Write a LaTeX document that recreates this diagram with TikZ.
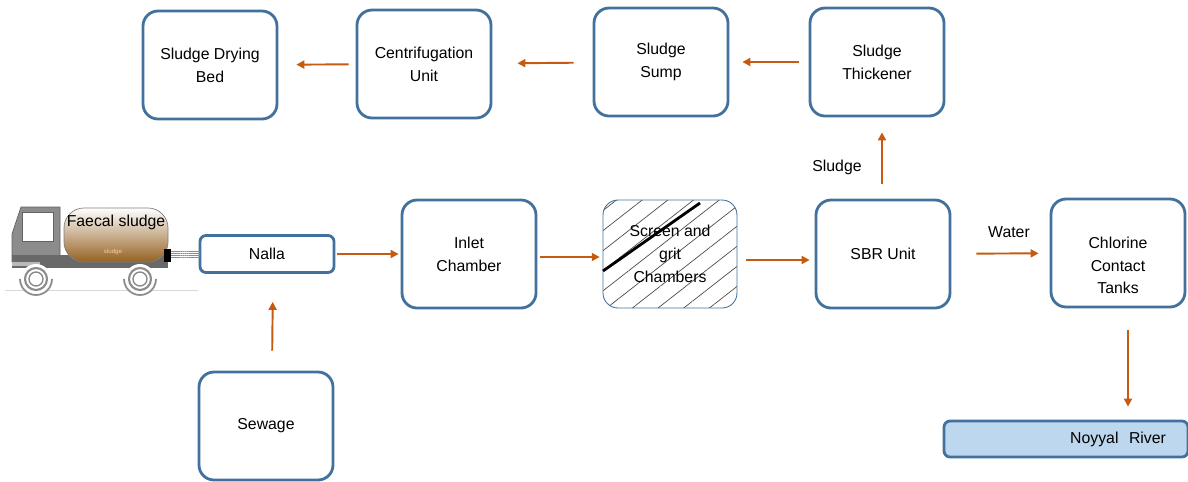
\documentclass[tikz,border=0pt]{standalone}
\usepackage{fontspec}
\setmainfont{Liberation Sans}
\usetikzlibrary{arrows.meta}
\usetikzlibrary{patterns.meta}
\definecolor{boxblue}{HTML}{41719C}
\definecolor{flowbrown}{HTML}{C55A11}
\definecolor{riverblue}{HTML}{BDD7EE}
\definecolor{tankbrown}{HTML}{946122}
\definecolor{cabgray}{HTML}{8C8C8C}
\tikzset{
    unit/.style = {rectangle, rounded corners=0.3cm, draw=boxblue, line width=1.6pt, fill=white,
                   minimum width=2.68cm, minimum height=2.16cm, align=center,
                   font=\fontsize{9}{13}\selectfont},
    smallunit/.style = {unit, rounded corners=0.12cm, minimum height=0.74cm},
    hatched/.style = {unit, line width=0.5pt, pattern={Lines[angle=38,distance=9pt,line width=0.4pt]},
                      pattern color=black!70},
    river/.style = {rectangle, rounded corners=0.12cm, draw=boxblue, line width=1.6pt, fill=riverblue,
                    minimum height=0.72cm, text width=4.0cm, inner xsep=0.44cm, align=right,
                    font=\fontsize{9}{13}\selectfont},
    txt/.style = {font=\fontsize{9}{13}\selectfont},
    flow/.style = {-{Triangle[length=4.5pt,width=4.5pt]}, line width=1.1pt, flowbrown},
}
\begin{document}
\begin{tikzpicture}[x=0.02cm,y=-0.02cm]
\path[use as bounding box] (0,0) rectangle (1188,481);
%
% sludge line
\node[unit] at (210,65) (dry) {Sludge Drying\\Bed};
\node[unit] at (424,64) (centri) {Centrifugation\\Unit};
\node[unit] at (661,62) (sump) {Sludge\\Sump};
\node[unit] at (877,62) (thick) {Sludge\\Thickener};
%
% water line
\node[smallunit] at (267,254) (nalla) {Nalla};
\node[unit] at (469,254) (inlet) {Inlet\\Chamber};
\node[hatched] at (670,254) (screen) {Screen and\\grit\\Chambers};
\node[unit] at (883,254) (sbr) {SBR Unit};
\node[unit, text height=46.5pt, text depth=0pt] at (1118,253) (chlor) {Chlorine\\Contact\\Tanks};
\node[unit] at (266,426) (sewage) {Sewage};
\node[river] at (1066,439) (noyyal) {Noyyal~ River};
%
\draw[line width=1.6pt,black] (603,271) -- (700,203);
%
% tanker truck
\fill[white] (5,200) rectangle (198,290);
\draw[black!15] (5,290) -- (198,290);
\filldraw[fill=cabgray, draw=cabgray!70!black, line width=0.4pt]
    (12,262) -- (12,234) -- (21,207) -- (60,207) -- (60,262) -- cycle;
\filldraw[fill=white, draw=cabgray!70!black, line width=0.4pt] (22,212) rectangle (53,241);
\fill[cabgray!75!black] (12,255) rectangle (168,268);
\fill[cabgray!60] (12,262) rectangle (40,266);
\shade[rounded corners=0.4cm, top color=white, middle color=white, bottom color=tankbrown, draw=black!50]
    (64,208) rectangle (168,262);
\fill[black] (164,249) rectangle (171,262);
\fill[pattern={Lines[angle=0,distance=1.2pt,line width=0.5pt]}, pattern color=black!45]
    (171,251) rectangle (200,258);
\node[txt] at (116,222) (faecal) {Faecal sludge};
\node[font=\fontsize{3.5}{4}\selectfont, text=orange!40] at (113,252) (tag) {sludge};
\foreach \wx in {36,140} {
    \fill[white] (\wx,279) circle (15);
    \draw[cabgray, line width=1.2pt] (\wx,279) circle (11);
    \draw[cabgray, line width=0.8pt] (\wx,279) circle (7);
    \draw[cabgray, line width=1pt] (\wx-16,279) arc (180:0:16);
}
%
\draw[flow, shorten <=0.14cm, shorten >=0.36cm] (centri) -- (dry);
\draw[flow, shorten <=0.38cm, shorten >=0.5cm] (sump) -- (centri);
\draw[flow, shorten <=0.2cm, shorten >=0.26cm] (thick) -- (sump);
\draw[flow, shorten <=0.3cm, shorten >=0.3cm] ([xshift=-0.02cm]sbr.north) -- ([xshift=-0.02cm]sbr.north |- thick.south);
\draw[flow, shorten <=0.04cm, shorten >=0.04cm] (nalla) -- (inlet);
\draw[flow, shorten <=0.06cm, shorten >=0.06cm] ([yshift=-0.06cm]inlet.east) -- ([yshift=-0.06cm]screen.west);
\draw[flow, shorten <=0.18cm, shorten >=0.1cm] ([yshift=-0.12cm]screen.east) -- ([yshift=-0.12cm]sbr.west);
\draw[flow, shorten <=0.5cm, shorten >=0.22cm] (sbr) -- (chlor);
\draw[flow, shorten <=0.4cm, shorten >=0.56cm] ([xshift=0.12cm]sewage.north) -- ([xshift=0.12cm]nalla.south);
\draw[flow, shorten <=0.44cm, shorten >=0.26cm] ([xshift=0.2cm]chlor.south) -- ([xshift=0.2cm]chlor.south |- noyyal.north);
%
\node[txt] at (837,167) (sludge) {Sludge};
\node[txt] at (1009,232) (water) {Water};

\end{tikzpicture}
\end{document}
